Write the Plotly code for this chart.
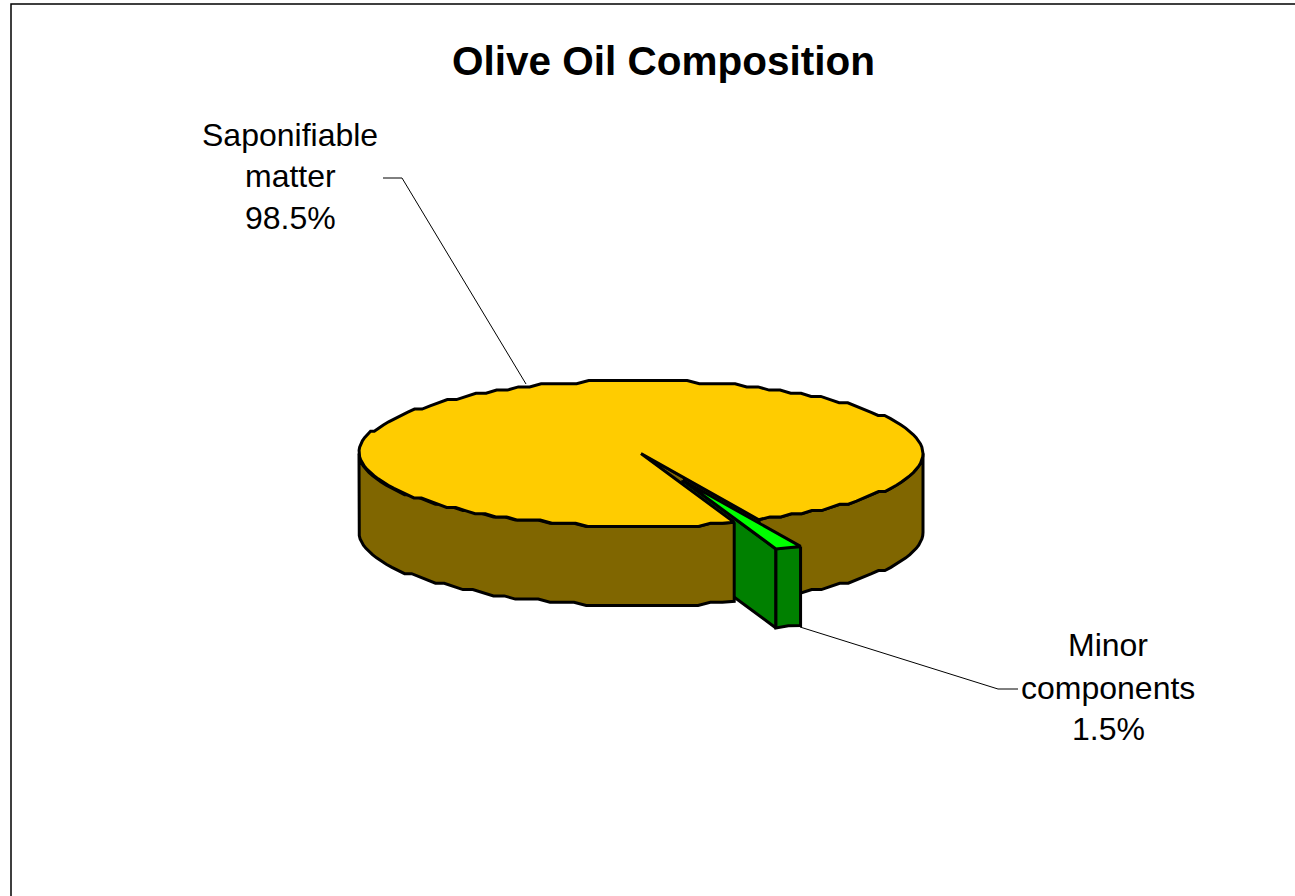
import math
import plotly.graph_objects as go

# ---- data ----
labels = ["Saponifiable matter", "Minor components"]
label_lines = [["Saponifiable", "matter"], ["Minor", "components"]]
values = [98.5, 1.5]
title = "Olive Oil Composition"

# ---- style / geometry ----
BROWN, YELLOW, DARK_GREEN, GREEN = "#806600", "#FFCC00", "#008000", "#00FF00"
CX, CY, RX, RY, DEPTH = 641.0, 453.5, 282.0, 72.9, 79.0
MID = 68.0              # direction of the small slice, degrees
EXPLODE = 0.395
GRID = 3.17             # coarse coordinate grid of the original metafile look
LW = 3.0
FONT = "Liberation Sans, Arial, sans-serif"

sweep = 360.0 * values[1] / sum(values)
a0, a1 = MID - sweep / 2, MID + sweep / 2   # small slice runs a0..a1


def snap(v):
    return round(v / GRID) * GRID


def arc(start, end, cx=CX, cy=CY, dy=0.0, step=2.5, quant=True):
    n = max(1, int(abs(end - start) / step))
    xs, ys = [], []
    for i in range(n + 1):
        t = math.radians(start + (end - start) * i / n)
        x, y = RX * math.cos(t), RY * math.sin(t)
        if quant and 0 < i < n:
            y = snap(y)
        xs.append(cx + x)
        ys.append(cy + y + dy)
    return xs, ys


fig = go.Figure()


def poly(xs, ys, fill):
    fig.add_trace(go.Scatter(
        x=xs + xs[:1], y=ys + ys[:1], mode="lines", fill="toself", fillcolor=fill,
        line=dict(color="black", width=LW), hoverinfo="skip", showlegend=False))


def wall(start, end, cx=CX, cy=CY):
    tx, ty = arc(start, end, cx, cy)
    bx, by = arc(end, start, cx, cy, DEPTH)
    return tx + bx, ty + by


# right outer wall of the large slice, behind the small slice
poly(*wall(0, a0), BROWN)

# far cut face of the large slice
ex, ey = CX + RX * math.cos(math.radians(a0)), CY + RY * math.sin(math.radians(a0))
poly([CX, ex, ex, CX], [CY, ey, ey + DEPTH, CY + DEPTH], BROWN)

# exploded small slice
ox = CX + EXPLODE * RX * math.cos(math.radians(MID))
oy = CY + EXPLODE * RY * math.sin(math.radians(MID))
lx, ly = ox + RX * math.cos(math.radians(a1)), oy + RY * math.sin(math.radians(a1))
poly([ox, lx, lx, ox], [oy, ly, ly + DEPTH, oy + DEPTH], DARK_GREEN)
poly(*wall(a0, a1, ox, oy), DARK_GREEN)
gx, gy = arc(a0, a1, ox, oy, step=2.0, quant=False)
poly([ox] + gx, [oy] + gy, GREEN)

# front-left outer wall of the large slice, then its top
poly(*wall(a1, 180), BROWN)
tx, ty = arc(a1, a0 + 360)
poly([CX] + tx, [CY] + ty, YELLOW)

# leader lines
leaders = [([526, 402, 383], [384, 178, 178]), ([800, 998, 1018], [627, 689, 689])]
for lxs, lys in leaders:
    fig.add_trace(go.Scatter(x=lxs, y=lys, mode="lines", line=dict(color="black", width=1),
                             hoverinfo="skip", showlegend=False))

# chart-area frame (top and left edges are inside the picture)
fig.add_trace(go.Scatter(x=[11, 11, 1295], y=[896, 4, 4], mode="lines",
                         line=dict(color="black", width=1.5), hoverinfo="skip", showlegend=False))

# data labels
label_x = [290, 1108]
label_y = [[135, 176, 218], [645, 688, 729]]
for i, lines in enumerate(label_lines):
    rows = lines + [f"{values[i]:.1f}%"]
    for row, y in zip(rows, label_y[i]):
        fig.add_annotation(x=label_x[i], y=y, text=row, showarrow=False, xanchor="center",
                           yanchor="middle", font=dict(family=FONT, size=32, color="black"))

fig.add_annotation(x=663, y=61, text=f"<b>{title}</b>", showarrow=False, xanchor="center",
                   yanchor="middle", font=dict(family=FONT, size=40.5, color="black"))

fig.update_xaxes(visible=False, range=[0, 1295], fixedrange=True)
fig.update_yaxes(visible=False, range=[896, 0], fixedrange=True)
fig.update_layout(width=1295, height=896, margin=dict(l=0, r=0, t=0, b=0),
                  paper_bgcolor="white", plot_bgcolor="white", showlegend=False)
fig.write_html("out.html", config={"displayModeBar": False},
               post_script="document.body.style.margin='0';document.documentElement.style.overflow='hidden';")
